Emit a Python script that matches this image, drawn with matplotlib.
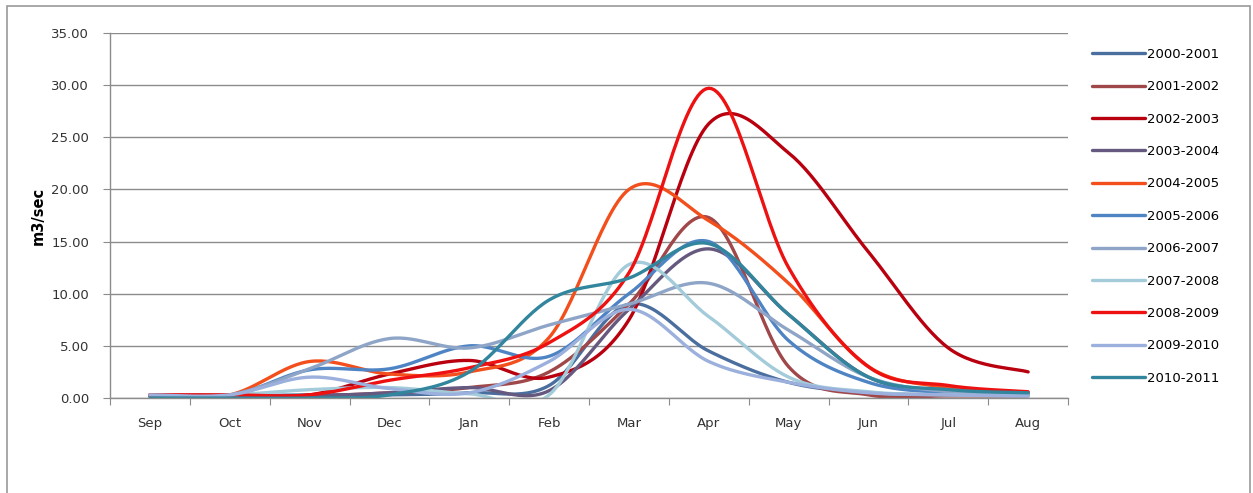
import numpy as np
import matplotlib
matplotlib.use("Agg")
import matplotlib.pyplot as plt
from matplotlib.patches import Rectangle

# === DATOS ===
months = ['Sep', 'Oct', 'Nov', 'Dec', 'Jan', 'Feb', 'Mar', 'Apr', 'May', 'Jun', 'Jul', 'Aug']

s_2000_2001 = [0.2, 0.2, 0.3, 0.3, 0.5, 1.2, 9.0, 4.5, 1.5, 0.5, 0.3, 0.2]
s_2001_2002 = [0.2, 0.2, 0.2, 0.5, 1.0, 2.5, 9.0, 17.3, 3.0, 0.3, 0.2, 0.2]
s_2002_2003 = [0.3, 0.3, 0.3, 2.3, 3.6, 2.0, 7.5, 26.3, 23.5, 14.0, 4.8, 2.5]
s_2003_2004 = [0.2, 0.2, 0.2, 0.5, 1.0, 0.7, 8.5, 14.3, 8.0, 2.0, 0.6, 0.4]
s_2004_2005 = [0.3, 0.3, 3.5, 2.3, 2.5, 5.8, 20.0, 17.0, 11.0, 3.0, 1.0, 0.5]
s_2005_2006 = [0.2, 0.2, 2.7, 2.8, 5.0, 4.0, 10.0, 15.0, 5.5, 1.5, 0.5, 0.3]
s_2006_2007 = [0.3, 0.3, 2.8, 5.7, 4.8, 7.0, 9.0, 11.0, 6.5, 2.0, 0.6, 0.3]
s_2007_2008 = [0.3, 0.3, 0.8, 1.0, 0.4, 0.3, 12.8, 7.8, 2.0, 0.6, 0.3, 0.2]
s_2008_2009 = [0.3, 0.3, 0.3, 1.7, 2.9, 5.3, 12.0, 29.7, 12.5, 3.0, 1.2, 0.6]
s_2009_2010 = [0.3, 0.3, 2.0, 0.9, 0.5, 3.5, 8.5, 3.5, 1.5, 0.5, 0.3, 0.2]
s_2010_2011 = [0.0, 0.0, 0.0, 0.3, 2.5, 9.4, 11.5, 14.8, 8.0, 2.0, 0.8, 0.5]

series = [
    ('2000-2001', s_2000_2001, '#4A6E9E'),
    ('2001-2002', s_2001_2002, '#A0474A'),
    ('2002-2003', s_2002_2003, '#B8000F'),
    ('2003-2004', s_2003_2004, '#66597F'),
    ('2004-2005', s_2004_2005, '#F24F1C'),
    ('2005-2006', s_2005_2006, '#4F84C4'),
    ('2006-2007', s_2006_2007, '#8EA5C7'),
    ('2007-2008', s_2007_2008, '#A3CBDA'),
    ('2008-2009', s_2008_2009, '#EE1111'),
    ('2009-2010', s_2009_2010, '#9BB0DC'),
    ('2010-2011', s_2010_2011, '#31859C'),
]


def suavizar(y, n=30):
    # curva tipo Excel (Catmull-Rom con Bezier cubico)
    y = np.asarray(y, dtype=float)
    x = np.arange(len(y), dtype=float)
    px = np.concatenate([[x[0]], x, [x[-1]]])
    py = np.concatenate([[y[0]], y, [y[-1]]])
    xs, ys = [], []
    t = np.linspace(0, 1, n)
    for i in range(len(y) - 1):
        p0 = np.array([px[i + 1], py[i + 1]])
        p3 = np.array([px[i + 2], py[i + 2]])
        p1 = p0 + (p3 - np.array([px[i], py[i]])) / 6.0
        p2 = p3 - (np.array([px[i + 3], py[i + 3]]) - p0) / 6.0
        b = ((1 - t) ** 3)[:, None] * p0 + (3 * (1 - t) ** 2 * t)[:, None] * p1 \
            + (3 * (1 - t) * t ** 2)[:, None] * p2 + (t ** 3)[:, None] * p3
        xs.append(b[:, 0])
        ys.append(b[:, 1])
    return np.concatenate(xs), np.concatenate(ys)


# === FIGURA ===
fig = plt.figure(figsize=(12.53, 4.93), dpi=100)
ax = fig.add_axes([0.0878, 0.1927, 0.7646, 0.7404])

for nombre, valores, color in series:
    xs, ys = suavizar(valores)
    ax.plot(xs, ys, color=color, lw=2.4, label=nombre, solid_capstyle='round')

ax.set_xlim(-0.5, 11.5)
ax.set_ylim(0, 35)
ax.set_yticks(np.arange(0, 36, 5))
ax.set_yticklabels([f'{v:.2f}' for v in np.arange(0, 36, 5)])
ax.yaxis.grid(True, color='#8C8C8C', lw=1.0)
ax.set_axisbelow(True)

ax.set_xticks(np.arange(-0.5, 12, 1))
ax.set_xticklabels([])
ax.set_xticks(np.arange(12), minor=True)
ax.set_xticklabels(months, minor=True)
ax.tick_params(axis='x', which='minor', length=0, pad=14, labelsize=9.5, colors='#333333')
ax.tick_params(axis='x', which='major', length=5, color='#8C8C8C', direction='out')
ax.tick_params(axis='y', length=5, color='#8C8C8C', labelsize=9.5, pad=10, labelcolor='#333333')

for lado in ['top', 'right']:
    ax.spines[lado].set_visible(False)
for lado in ['left', 'bottom']:
    ax.spines[lado].set_color('#8C8C8C')
    ax.spines[lado].set_linewidth(1.0)

ax.set_ylabel('m3/sec', fontsize=10.5, fontweight='bold', labelpad=4)

fig.legend(loc='upper left', bbox_to_anchor=(0.862, 0.927), frameon=False,
           fontsize=9.5, handlelength=4.0, handletextpad=0.2, labelspacing=1.47)

# marco exterior
fig.patches.append(Rectangle((7 / 1253, -0.01), 1243 / 1253, 1 - 6 / 493 + 0.01,
                             transform=fig.transFigure, fill=False,
                             edgecolor='#9A9A9A', lw=1.2))

plt.savefig('out.png', dpi=100)
plt.close()
